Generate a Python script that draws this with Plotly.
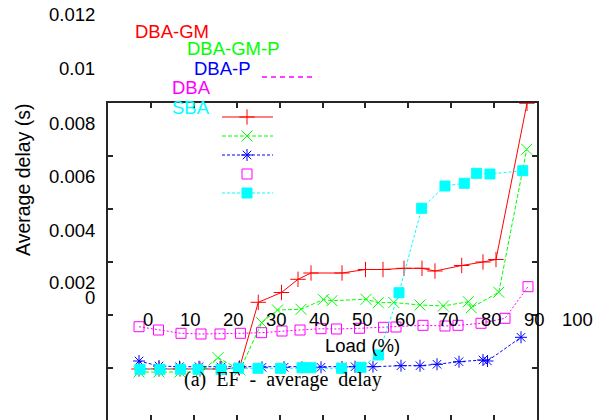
import plotly.graph_objects as go

# ---------------- data (x = load in frame units, y = average delay in s) ----------------
dba_gm_x = [7.23, 11.89, 16.78, 21.45, 26.11, 30.65, 35.03, 40.44, 44.29, 47.32,
            54.55, 60.02, 64.10, 69.00, 73.19, 76.22, 82.45, 87.41, 90.44, 97.67]
dba_gm_y = [0.001962, 0.001962, 0.001962, 0.001962, 0.001962, 0.002000, 0.004479, 0.004849,
            0.005347, 0.005585, 0.005585, 0.005717, 0.005717, 0.005762, 0.005762, 0.005660,
            0.005868, 0.006000, 0.006094, 0.011990]

dba_gm_p_x = [7.23, 11.89, 16.78, 21.45, 25.64, 30.77, 35.83, 39.51, 44.99, 50.19,
              52.21, 60.14, 63.01, 66.62, 72.73, 78.16, 83.99, 84.66, 91.10, 97.60]
dba_gm_p_y = [0.001849, 0.001849, 0.001849, 0.001849, 0.002389, 0.001925, 0.003709, 0.004189,
              0.004215, 0.004585, 0.004540, 0.004592, 0.004464, 0.004472, 0.004377, 0.004340,
              0.004502, 0.004272, 0.004860, 0.010253]

dba_p_x = [7.23, 11.89, 16.67, 21.21, 26.34, 30.54, 35.90, 41.03, 45.22, 49.65,
           54.55, 57.58, 61.77, 68.30, 72.73, 76.69, 81.82, 87.41, 88.46, 96.27]
dba_p_y = [0.002264, 0.002075, 0.002049, 0.002049, 0.002038, 0.002038, 0.002026, 0.002026,
           0.002026, 0.002026, 0.002038, 0.002049, 0.002049, 0.002087, 0.002087, 0.002140,
           0.002238, 0.002302, 0.002264, 0.003158]

dba_x = [7.23, 11.77, 17.02, 21.68, 26.11, 30.89, 35.78, 40.56, 44.76, 49.65,
         53.26, 58.62, 64.22, 67.13, 73.43, 78.55, 81.59, 86.95, 92.54, 97.90]
dba_y = [0.003558, 0.003434, 0.003309, 0.003283, 0.003283, 0.003309, 0.003332, 0.003396,
         0.003434, 0.003483, 0.003472, 0.003498, 0.003536, 0.003547, 0.003611, 0.003585,
         0.003611, 0.003687, 0.003875, 0.005068]

sba_x = [7.46, 12.12, 16.90, 20.98, 26.34, 30.42, 34.97, 40.21, 45.22, 47.32,
         54.43, 58.97, 63.05, 67.83, 73.12, 78.55, 83.05, 85.94, 89.04, 96.67]
sba_y = [0.001951, 0.001951, 0.001951, 0.001951, 0.001951, 0.001989, 0.001989, 0.001989,
         0.002011, 0.002011, 0.001989, 0.002026, 0.002491, 0.004842, 0.008026, 0.008868,
         0.008970, 0.009347, 0.009321, 0.009445]

series_names = ["DBA-GM", "DBA-GM-P", "DBA-P", "DBA", "SBA"]
x_tick_labels = ["0", "10", "20", "30", "40", "50", "60", "70", "80", "90", "100"]
y_tick_labels = ["0.012", "0.01", "0.008", "0.006", "0.004", "0.002", "0"]
x_title = "Load (%)"
y_title = "Average delay (s)"
caption = "(a)\u00a0\u00a0EF\u00a0\u00a0-\u00a0\u00a0average\u00a0\u00a0delay"

# ---------------- layout geometry (pixels of the 602x420 page) ----------------
W, H = 602, 420
L, R, T, B = 108, 537, 103, 420      # plot area
Y_TOP, PX_PER_Y = 0.012, 26500.0      # y value at top border, pixels per second
Y_LO = Y_TOP - (B - T) / PX_PER_Y


def px(xp):
    return (xp - L) / (R - L)


def py(yp):
    return (B - yp) / (B - T)


def dx(xp):
    return (xp - L) / (R - L) * 100.0


def dy(yp):
    return Y_TOP - (yp - T) / PX_PER_Y


SANS = "Liberation Sans, Arial, sans-serif"
SERIF = "Liberation Serif, Times New Roman, serif"
FRAME = "#262626"

styles = [
    dict(color="#ff0000", dash="solid", symbol="cross-thin-open", size=11),
    dict(color="#00ff00", dash="4px,2px", symbol="x-thin-open", size=11),
    dict(color="#0000ff", dash="3px,2px", symbol="asterisk-open", size=10),
    dict(color="#ff00ff", dash="2px,2px", symbol="square-open", size=10),
    dict(color="#00ffff", dash="3px,2px", symbol="square", size=10),
]
xs = [dba_gm_x, dba_gm_p_x, dba_p_x, dba_x, sba_x]
ys = [dba_gm_y, dba_gm_p_y, dba_p_y, dba_y, sba_y]

fig = go.Figure()
for name, st, x, y in zip(series_names, styles, xs, ys):
    fig.add_trace(go.Scatter(
        x=x, y=y, name=name, mode="lines+markers", showlegend=False,
        line=dict(color=st["color"], width=1, dash=st["dash"]),
        marker=dict(symbol=st["symbol"], size=st["size"], color=st["color"],
                    line=dict(color=st["color"], width=1)),
    ))

# bottom ticks (no line) on a second x axis
fig.add_trace(go.Scatter(x=[], y=[], xaxis="x2", showlegend=False))

# ---------------- hand-made key ----------------
key_rows = [117, 136, 155, 174, 193]
shapes = []
annotations = []
for i, (st, yr) in enumerate(zip(styles, key_rows)):
    if i != 3:
        shapes.append(dict(type="line", xref="paper", yref="paper",
                           x0=px(222), x1=px(273), y0=py(yr), y1=py(yr),
                           line=dict(color=st["color"], width=1, dash=st["dash"])))
    fig.add_trace(go.Scatter(
        x=[dx(247)], y=[dy(yr)], mode="markers", showlegend=False, hoverinfo="skip",
        marker=dict(symbol=st["symbol"], size=st["size"], color=st["color"],
                    line=dict(color=st["color"], width=1)),
    ))
# displaced magenta key line
shapes.append(dict(type="line", xref="paper", yref="paper",
                   x0=px(262), x1=px(312), y0=py(77), y1=py(77),
                   line=dict(color=styles[3]["color"], width=1.5, dash="5px,4px")))

key_text_pos = [(172, 31), (233, 49), (222, 68), (191, 87), (191, 107)]
for name, st, (tx, ty) in zip(series_names, styles, key_text_pos):
    annotations.append(dict(text=name, xref="paper", yref="paper", x=px(tx), y=py(ty),
                            xanchor="center", yanchor="middle", showarrow=False,
                            font=dict(family=SANS, size=18.5, color=st["color"])))

# ---------------- misplaced tick labels ----------------
x_label_px = [147.5, 190.5, 233.5, 276.5, 319.5, 362.5, 405.5, 448.5, 491.5, 534.5, 577.5]
for lab, xp in zip(x_tick_labels, x_label_px):
    annotations.append(dict(text=lab, xref="paper", yref="paper", x=px(xp), y=py(319.5),
                            xanchor="center", yanchor="middle", showarrow=False,
                            font=dict(family=SANS, size=18.5, color="black")))
y_label_py = [15, 68, 123, 176, 230, 282, 297]
for lab, yp in zip(y_tick_labels, y_label_py):
    annotations.append(dict(text=lab, xref="paper", yref="paper", x=px(97), y=py(yp),
                            xanchor="right", yanchor="middle", showarrow=False,
                            font=dict(family=SANS, size=18.5, color="black")))

annotations.append(dict(text=x_title, xref="paper", yref="paper", x=px(362), y=py(345),
                        xanchor="center", yanchor="middle", showarrow=False,
                        font=dict(family=SANS, size=18.5, color="black")))
annotations.append(dict(text=y_title, xref="paper", yref="paper", x=px(23), y=py(180),
                        xanchor="center", yanchor="middle", showarrow=False, textangle=-90,
                        font=dict(family=SANS, size=19.5, color="black")))
annotations.append(dict(text=caption, xref="paper", yref="paper", x=px(283), y=py(379),
                        xanchor="center", yanchor="middle", showarrow=False,
                        font=dict(family=SERIF, size=20, color="black")))

tick_common = dict(ticks="inside", ticklen=5, tickwidth=1.5, tickcolor=FRAME,
                   showticklabels=False, showgrid=False, zeroline=False)

fig.update_layout(
    width=W, height=H,
    margin=dict(l=L, r=W - R, t=T, b=H - B, pad=0),
    paper_bgcolor="white", plot_bgcolor="white",
    showlegend=False,
    xaxis=dict(range=[0, 100], side="top", showline=True, linecolor=FRAME, linewidth=2,
               tickvals=[10, 20, 30, 40, 50, 60, 70, 80, 90], **tick_common),
    xaxis2=dict(range=[0, 100], overlaying="x", side="bottom", anchor="y", showline=False,
                tickvals=[10, 20, 30, 40, 50, 60, 70, 80, 90], **tick_common),
    yaxis=dict(range=[Y_LO, Y_TOP], showline=True, linecolor=FRAME, linewidth=2, mirror="ticks",
               tickvals=[0.002, 0.004, 0.006, 0.008, 0.010], **tick_common),
    shapes=shapes,
    annotations=annotations,
)

fig.write_html("out.html")
